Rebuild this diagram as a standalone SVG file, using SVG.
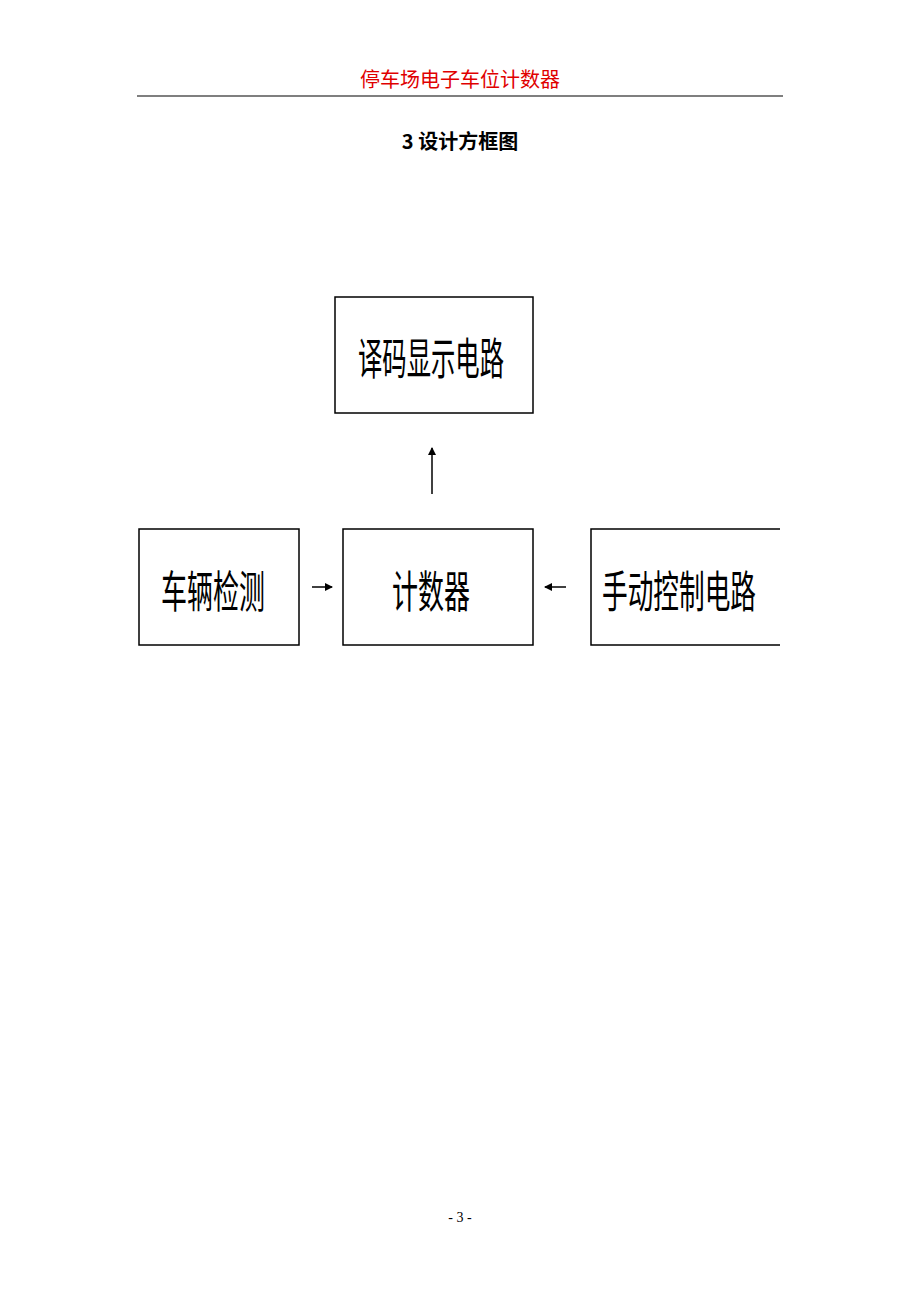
<svg xmlns="http://www.w3.org/2000/svg" width="920" height="1302" viewBox="0 0 920 1302">
<style>
.box{fill:#fff;stroke:#000;stroke-width:1.5}
.lbl{font-family:"Noto Sans CJK SC",sans-serif;font-size:44px;fill:#000;text-anchor:middle}
.ln{stroke:#000;stroke-width:1.5;fill:none}
</style>
<defs>
<marker id="ah" markerWidth="8" markerHeight="8" refX="7" refY="4" orient="auto" markerUnits="userSpaceOnUse"><path d="M0,0 L8,4 L0,8 z" fill="#000"/></marker>
</defs>
<rect width="920" height="1302" fill="#fff"/>
<text x="460" y="87" font-family="'Noto Sans CJK SC',sans-serif" font-size="20" fill="#e00000" text-anchor="middle">停车场电子车位计数器</text>
<line x1="137" y1="96" x2="783" y2="96" stroke="#000" stroke-width="1.2"/>
<text x="460" y="149" font-family="'Noto Sans CJK SC',sans-serif" font-size="20" font-weight="bold" text-anchor="middle">3 设计方框图</text>
<g id="n1"><rect class="box" x="335" y="297" width="198" height="116"/><text class="lbl" x="431" y="375" textLength="146" lengthAdjust="spacingAndGlyphs">译码显示电路</text></g>
<g id="n2"><rect class="box" x="139" y="529" width="160" height="116"/><text class="lbl" x="213" y="608" textLength="104" lengthAdjust="spacingAndGlyphs">车辆检测</text></g>
<g id="n3"><rect class="box" x="343" y="529" width="190" height="116"/><text class="lbl" x="431" y="608" textLength="78" lengthAdjust="spacingAndGlyphs">计数器</text></g>
<g id="n4"><path class="box" d="M780,529 H591 V645 H780"/><text class="lbl" x="679" y="608" textLength="154" lengthAdjust="spacingAndGlyphs">手动控制电路</text></g>
<g id="connectors">
<line class="ln" x1="432" y1="494" x2="432" y2="448" marker-end="url(#ah)"/>
<line class="ln" x1="312" y1="587" x2="332" y2="587" stroke-width="2.5" marker-end="url(#ah)"/>
<line class="ln" x1="566" y1="587" x2="545" y2="587" stroke-width="2.5" marker-end="url(#ah)"/>
</g>
<text x="460" y="1222" font-family="'Liberation Serif',serif" font-size="14" text-anchor="middle">- 3 -</text>
</svg>
